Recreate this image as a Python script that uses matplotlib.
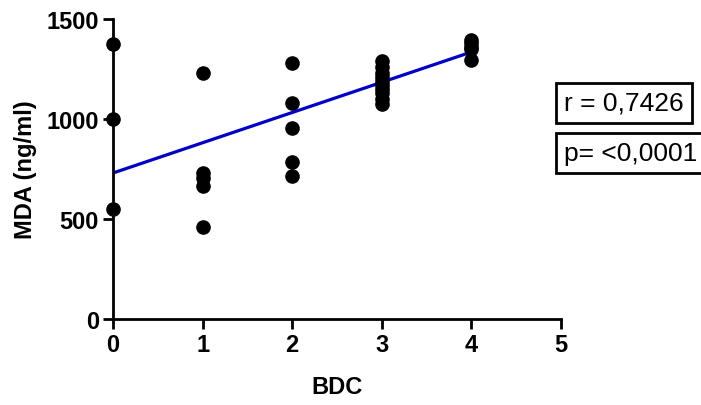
import numpy as np
import matplotlib
matplotlib.use("Agg")
import matplotlib.pyplot as plt

plt.rcParams['font.family'] = ['Liberation Sans', 'DejaVu Sans']

# dados
bdc = [0, 0, 0,
       1, 1, 1, 1, 1,
       2, 2, 2, 2, 2,
       3, 3, 3, 3, 3, 3, 3, 3, 3, 3,
       4, 4, 4, 4, 4]
mda = [1375, 1000, 550,
       1230, 730, 705, 665, 460,
       1280, 1080, 955, 785, 715,
       1290, 1260, 1230, 1210, 1190, 1170, 1150, 1130, 1100, 1075,
       1395, 1380, 1360, 1350, 1295]
reta_x = [0, 4]
reta_y = [730, 1335]
r_txt = "r = 0,7426"
p_txt = "p= <0,0001"

fig = plt.figure(figsize=(7.01, 4.06), dpi=100)
ax = fig.add_axes([113/701, 1 - 320/406, 448/701, 300/406])

ax.plot(reta_x, reta_y, color='#0000c8', lw=2.3, zorder=2)
ax.plot(bdc, mda, 'o', color='black', ms=9.5, clip_on=False, zorder=3)

ax.set_xlim(0, 5)
ax.set_ylim(0, 1500)
ax.set_xticks([0, 1, 2, 3, 4, 5])
ax.set_yticks([0, 500, 1000, 1500])
for s in ['top', 'right']:
    ax.spines[s].set_visible(False)
for s in ['left', 'bottom']:
    ax.spines[s].set_linewidth(2)
ax.tick_params(width=2, length=7, labelsize=17, pad=3)
for lab in ax.get_xticklabels() + ax.get_yticklabels():
    lab.set_fontweight('bold')

ax.set_xlabel('BDC', fontsize=17, fontweight='bold', labelpad=14)
ax.set_ylabel('MDA (ng/ml)', fontsize=17, fontweight='bold', labelpad=7)

caixa = dict(boxstyle='square,pad=0.3', fc='white', ec='black', lw=2)
fig.text(564/701, 1 - 104/406, r_txt, fontsize=19, va='center', ha='left', bbox=caixa)
fig.text(564/701, 1 - 154/406, p_txt, fontsize=19, va='center', ha='left', bbox=caixa)

plt.savefig('out.png', dpi=100)
